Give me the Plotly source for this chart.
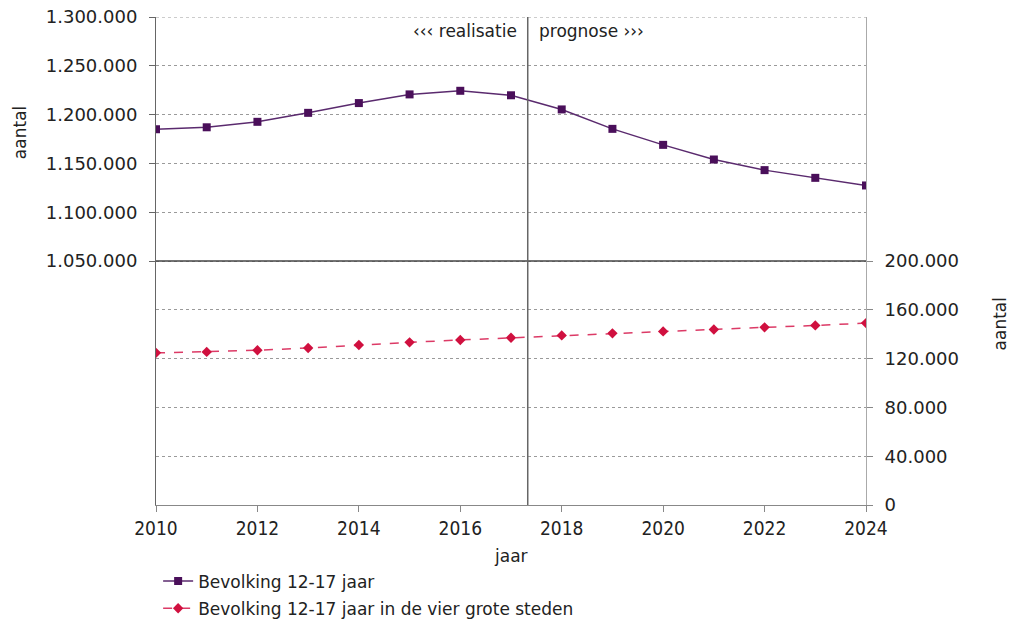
import plotly.graph_objects as go

years = list(range(2010, 2025))
bevolking = [1185000, 1187000, 1192600, 1201800, 1211800, 1220700, 1224400, 1219800,
             1205300, 1185400, 1169000, 1154000, 1143100, 1135200, 1127400]
bevolking_g4 = [124700, 125500, 126800, 128700, 131200, 133300, 135300, 137100,
                139000, 140700, 142300, 143900, 145600, 147200, 149100]

left_ticks = [1050000, 1100000, 1150000, 1200000, 1250000, 1300000]
right_ticks = [0, 40000, 80000, 120000, 160000, 200000]
x_ticks = list(range(2010, 2025, 2))
divider_x = 2017.33

def nl(v):
    return f"{v:,}".replace(",", ".")

FONT = "DejaVu Sans, Verdana, sans-serif"
TXT = "#222222"

fig = go.Figure()
fig.add_trace(go.Scatter(
    x=years, y=bevolking, name="Bevolking 12-17 jaar", mode="lines+markers",
    legendgroup="a",
    line=dict(color="#5a2a6e", width=1.5),
    marker=dict(symbol="square", size=8, color="#4a0f5a"),
    yaxis="y"))
fig.add_trace(go.Scatter(
    x=years, y=bevolking_g4, name="Bevolking 12-17 jaar in de vier grote steden",
    mode="lines+markers", legendgroup="b",
    line=dict(color="#dc3a66", width=1.5, dash="dash"),
    marker=dict(symbol="diamond", size=8, color="#d0103f"),
    yaxis="y2"))

fig.update_layout(
    width=1013, height=627,
    margin=dict(l=156, r=147, t=17, b=122, autoexpand=False),
    paper_bgcolor="white", plot_bgcolor="white",
    font=dict(family=FONT, size=17, color=TXT),
    xaxis=dict(range=[2010, 2024], tickvals=x_ticks, ticktext=[str(v) for v in x_ticks],
               showgrid=False, zeroline=False, showline=True, linecolor="#888888",
               linewidth=1, ticks="outside", ticklen=6, tickcolor="#888888",
               automargin=False, ticklabeloverflow="allow",
               tickfont=dict(family="Liberation Sans Narrow, DejaVu Sans Condensed, sans-serif",
                             size=19, color=TXT)),
    yaxis=dict(range=[800000, 1300000], tickvals=left_ticks,
               ticktext=[nl(v) for v in left_ticks],
               showgrid=True, gridcolor="#9a9a9a", griddash="dot", gridwidth=1,
               zeroline=False, showline=True, linecolor="#666666", linewidth=1,
               ticks="outside", ticklen=6, tickcolor="#666666", automargin=False,
               ticklabelstandoff=8, ticklabeloverflow="allow",
               tickfont=dict(size=18, color=TXT)),
    yaxis2=dict(range=[0, 400000], tickvals=right_ticks,
                ticktext=[nl(v) for v in right_ticks],
                overlaying="y", side="right", automargin=False,
                showgrid=True, gridcolor="#9a9a9a", griddash="dot", gridwidth=1,
                zeroline=False, showline=True, linecolor="#aaaaaa", linewidth=1,
                ticks="outside", ticklen=6, tickcolor="#888888",
                ticklabelstandoff=8, ticklabeloverflow="allow",
                tickfont=dict(size=18, color=TXT)),
    legend=dict(x=0.003, xanchor="left", y=-0.12, yanchor="top", yref="paper",
                font=dict(size=17, color=TXT), bgcolor="rgba(0,0,0,0)",
                traceorder="grouped", tracegroupgap=2),
    showlegend=True,
)

# top dotted grid line at 1.300.000
fig.add_shape(type="line", xref="paper", yref="y", x0=0, x1=1, y0=1300000, y1=1300000,
              line=dict(color="#9a9a9a", width=1, dash="dot"))
# solid separator line at 1.050.000 / 200.000
fig.add_shape(type="line", xref="paper", yref="y2", x0=0, x1=1, y0=200000, y1=200000,
              line=dict(color="#444444", width=1.5))
# realisatie / prognose divider
fig.add_shape(type="line", xref="x", yref="paper", x0=divider_x, x1=divider_x, y0=0, y1=1,
              line=dict(color="#666666", width=1.5))

fig.add_annotation(x=divider_x, y=1300000, yref="y", xref="x", text="‹‹‹ realisatie",
                   showarrow=False, xanchor="right", yanchor="top", xshift=-9, yshift=-2,
                   font=dict(size=17, color=TXT))
fig.add_annotation(x=divider_x, y=1300000, yref="y", xref="x", text="prognose ›››",
                   showarrow=False, xanchor="left", yanchor="top", xshift=9, yshift=-2,
                   font=dict(size=17, color=TXT))
fig.add_annotation(x=0.5, xref="paper", y=-0.08, yref="paper", text="jaar",
                   showarrow=False, xanchor="center", yanchor="top",
                   font=dict(size=17, color=TXT))
fig.add_annotation(x=0, xref="paper", y=1181000, yref="y", text="aantal", textangle=-90,
                   showarrow=False, xanchor="center", yanchor="middle", xshift=-136,
                   font=dict(size=17, color=TXT))
fig.add_annotation(x=1, xref="paper", y=148000, yref="y2", text="aantal", textangle=-90,
                   showarrow=False, xanchor="center", yanchor="middle", xshift=134,
                   font=dict(size=17, color=TXT))

fig.write_html("out.html", config={"displayModeBar": False},
               post_script="document.body.style.margin='0';document.body.style.overflow='hidden';")
